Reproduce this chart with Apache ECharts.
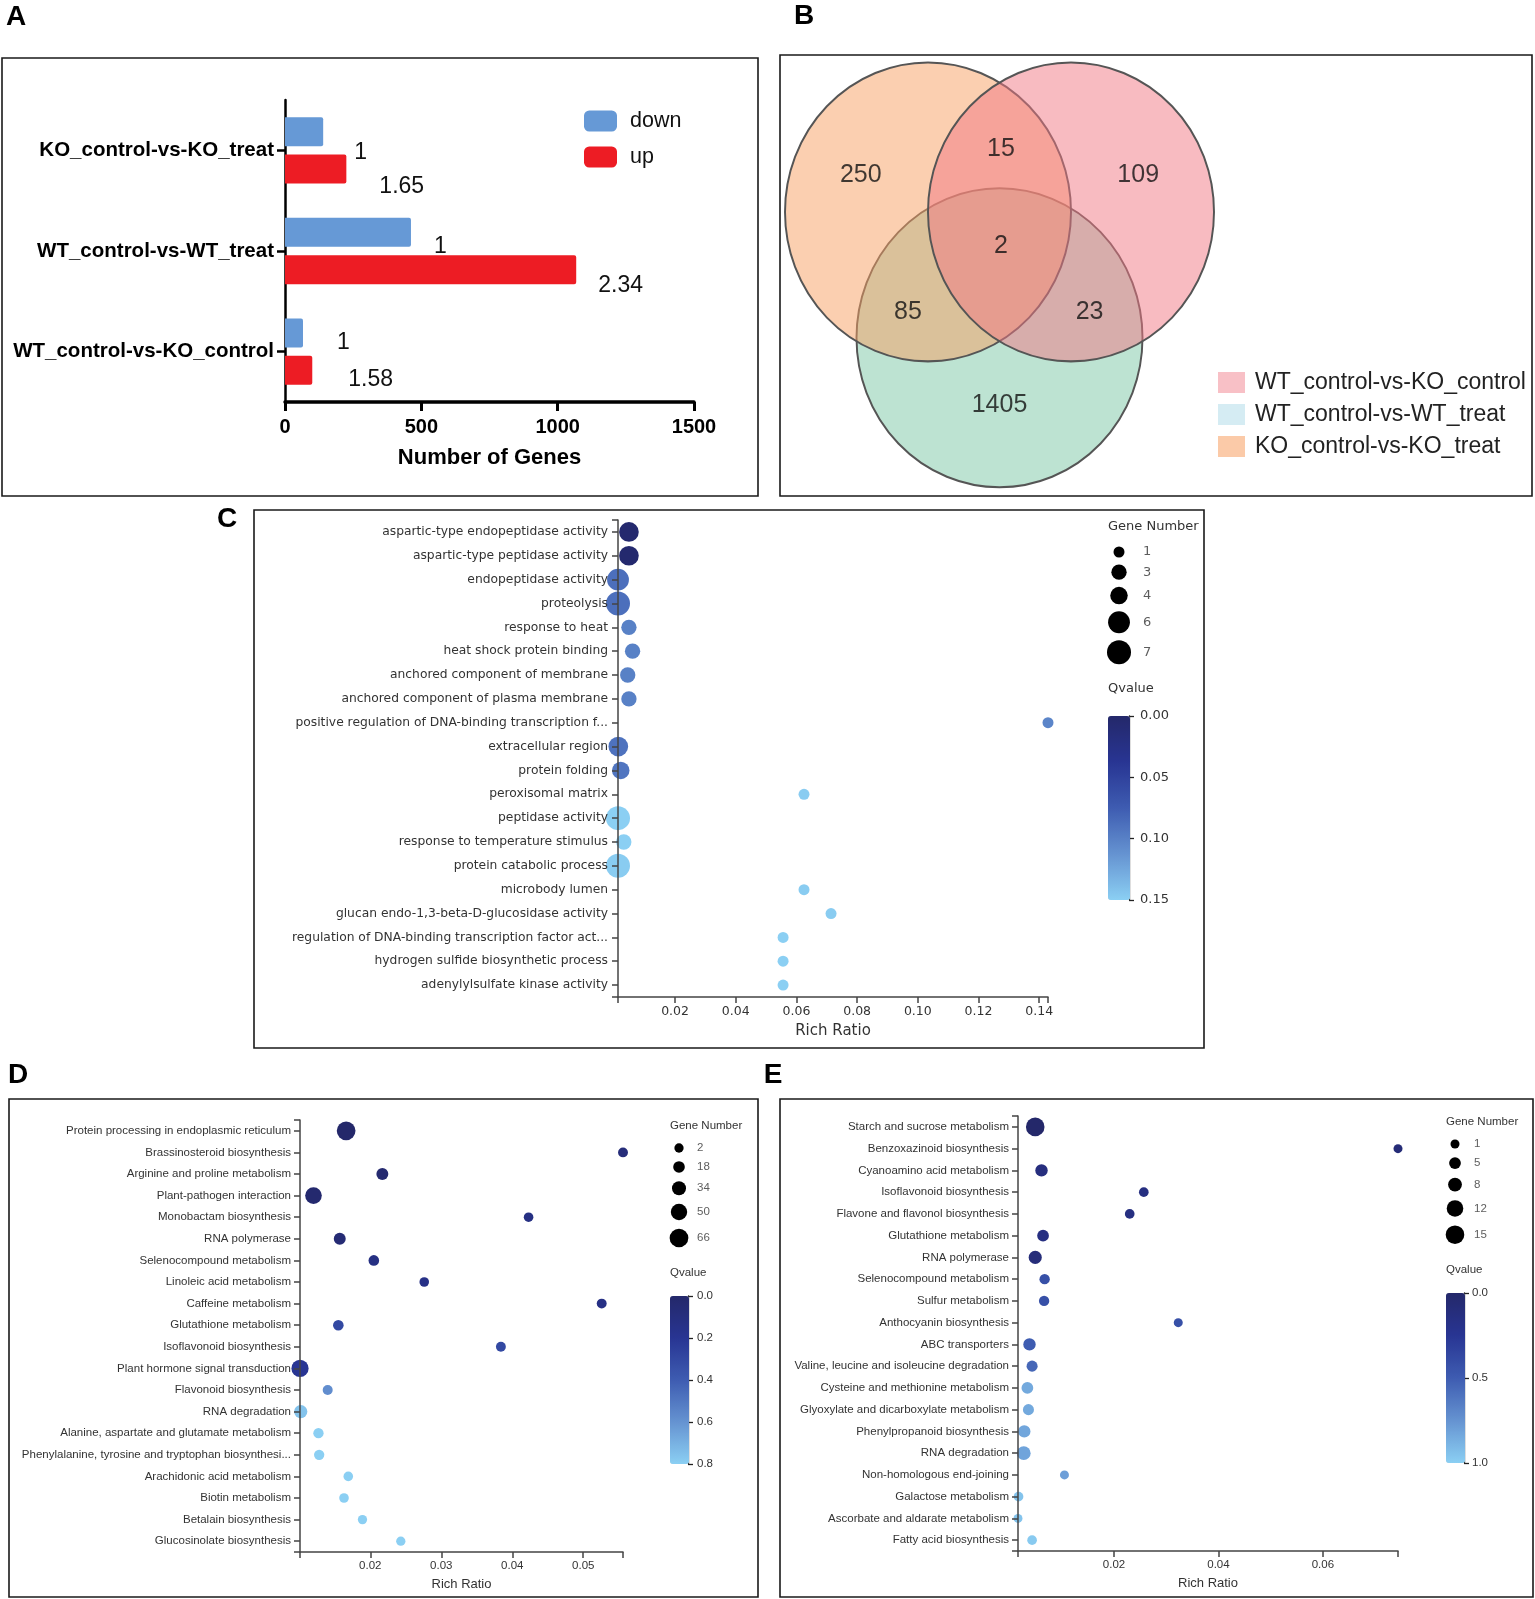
<!DOCTYPE html>
<html><head><meta charset="utf-8">
<script src="https://cdn.jsdelivr.net/npm/echarts@6/dist/echarts.min.js"></script>
<style>html,body{margin:0;padding:0;background:#fff}#c{width:1535px;height:1599px}</style>
</head><body><div id="c"></div>
<script>
// ================= DATA =================
// Panel A
const comparisonsA = ['KO_control-vs-KO_treat', 'WT_control-vs-WT_treat', 'WT_control-vs-KO_control'];
const downGenesA = [140, 462, 66];
const upGenesA = [225, 1068, 100];
const downLabelsA = ['1', '1', '1'];
const upLabelsA = ['1.65', '2.34', '1.58'];
const seriesNamesA = ['down', 'up'];

// Panel B (Venn)
const vennSetNames = ['WT_control-vs-KO_control', 'WT_control-vs-WT_treat', 'KO_control-vs-KO_treat'];
const vennRegions = ['KO only', 'KO+WTKO', 'WTKO only', 'all', 'KO+WT', 'WTKO+WT', 'WT only'];
const vennCounts = [250, 15, 109, 2, 85, 23, 1405];

// Panel C
const termsC = ['aspartic-type endopeptidase activity', 'aspartic-type peptidase activity', 'endopeptidase activity', 'proteolysis', 'response to heat', 'heat shock protein binding', 'anchored component of membrane', 'anchored component of plasma membrane', 'positive regulation of DNA-binding transcription f...', 'extracellular region', 'protein folding', 'peroxisomal matrix', 'peptidase activity', 'response to temperature stimulus', 'protein catabolic process', 'microbody lumen', 'glucan endo-1,3-beta-D-glucosidase activity', 'regulation of DNA-binding transcription factor act...', 'hydrogen sulfide biosynthetic process', 'adenylylsulfate kinase activity'];
const richRatioC = [0.0048, 0.0048, 0.0012, 0.0012, 0.0048, 0.0060, 0.0044, 0.0048, 0.1429, 0.0013, 0.0021, 0.0625, 0.0012, 0.0031, 0.0012, 0.0625, 0.0714, 0.0556, 0.0556, 0.0556];
const qvalueC = [0.004, 0.004, 0.088, 0.088, 0.1, 0.1, 0.1, 0.1, 0.103, 0.09, 0.092, 0.148, 0.15, 0.15, 0.148, 0.148, 0.148, 0.15, 0.15, 0.15];
const geneNumC = [5, 5, 6, 7, 3, 3, 3, 3, 1, 5, 4, 1, 7, 3, 7, 1, 1, 1, 1, 1];
const sizeTicksC = [1, 3, 4, 6, 7];
const qTicksC = [0, 0.05, 0.10, 0.15];
const xTicksC = [0.02, 0.04, 0.06, 0.08, 0.10, 0.12, 0.14];

// Panel D
const termsD = ['Protein processing in endoplasmic reticulum', 'Brassinosteroid biosynthesis', 'Arginine and proline metabolism', 'Plant-pathogen interaction', 'Monobactam biosynthesis', 'RNA polymerase', 'Selenocompound metabolism', 'Linoleic acid metabolism', 'Caffeine metabolism', 'Glutathione metabolism', 'Isoflavonoid biosynthesis', 'Plant hormone signal transduction', 'Flavonoid biosynthesis', 'RNA degradation', 'Alanine, aspartate and glutamate metabolism', 'Phenylalanine, tyrosine and tryptophan biosynthesi...', 'Arachidonic acid metabolism', 'Biotin metabolism', 'Betalain biosynthesis', 'Glucosinolate biosynthesis'];
const richRatioD = [0.0166, 0.0556, 0.0217, 0.0120, 0.0423, 0.0157, 0.0205, 0.0276, 0.0526, 0.0155, 0.0384, 0.0101, 0.0140, 0.0102, 0.0127, 0.0128, 0.0169, 0.0163, 0.0189, 0.0243];
const qvalueD = [0.0, 0.08, 0.03, 0.02, 0.12, 0.05, 0.12, 0.14, 0.13, 0.3, 0.3, 0.2, 0.58, 0.76, 0.8, 0.8, 0.8, 0.8, 0.8, 0.8];
const geneNumD = [66, 6, 20, 52, 4, 20, 11, 4, 6, 11, 6, 56, 7, 29, 9, 9, 4, 4, 2, 2];
const sizeTicksD = [2, 18, 34, 50, 66];
const qTicksD = [0, 0.2, 0.4, 0.6, 0.8];
const xTicksD = [0.02, 0.03, 0.04, 0.05];

// Panel E
const termsE = ['Starch and sucrose metabolism', 'Benzoxazinoid biosynthesis', 'Cyanoamino acid metabolism', 'Isoflavonoid biosynthesis', 'Flavone and flavonol biosynthesis', 'Glutathione metabolism', 'RNA polymerase', 'Selenocompound metabolism', 'Sulfur metabolism', 'Anthocyanin biosynthesis', 'ABC transporters', 'Valine, leucine and isoleucine degradation', 'Cysteine and methionine metabolism', 'Glyoxylate and dicarboxylate metabolism', 'Phenylpropanoid biosynthesis', 'RNA degradation', 'Non-homologous end-joining', 'Galactose metabolism', 'Ascorbate and aldarate metabolism', 'Fatty acid biosynthesis'];
const richRatioE = [0.0049, 0.0744, 0.0061, 0.0257, 0.0230, 0.0064, 0.0049, 0.0067, 0.0066, 0.0323, 0.0038, 0.0043, 0.0034, 0.0036, 0.0028, 0.0027, 0.0105, 0.0017, 0.0016, 0.0043];
const qvalueE = [0.0, 0.08, 0.12, 0.14, 0.14, 0.14, 0.1, 0.42, 0.42, 0.42, 0.5, 0.55, 0.84, 0.84, 0.83, 0.82, 0.8, 0.95, 0.95, 0.98];
const geneNumE = [15, 1, 6, 2, 2, 5, 7, 3, 3, 1, 6, 4, 5, 4, 6, 8, 1, 2, 1, 2];
const sizeTicksE = [1, 5, 8, 12, 15];
const qTicksE = [0, 0.5, 1.0];
const xTicksE = [0.02, 0.04, 0.06];

// ================= STYLE / LAYOUT =================
const F_A = "'Liberation Sans', Arial, sans-serif";
const F_C = "'DejaVu Sans', Verdana, sans-serif";
const F_DE = "'Liberation Sans', Arial, sans-serif";
const QCOLORS = ['#24286a', '#283593', '#3e5cb1', '#6593d1', '#8bcff3'];
const AXIS_GRAY = '#444';
const TXT = '#333';

const LAYOUT = {
  A: { grid: { left: 285, top: 100, width: 409, height: 302 },
       offDown: [[26, 21], [18, 14], [29, 10]], offUp: [[28, 18], [17, 16], [31, 9]] },
  B: { box: { left: 780, top: 55, width: 752, height: 441 }, unitPx: 143, origin: [999.5, 272],
       centers: { 'KO_control-vs-KO_treat': [-0.5, 0.42], 'WT_control-vs-KO_control': [0.5, 0.42], 'WT_control-vs-WT_treat': [0, -0.46] },
       ellipse: [1.0, 1.045],
       labelPos: [[-0.97, 0.68], [0.01, 0.86], [0.97, 0.68], [0.01, 0.18], [-0.64, -0.28], [0.63, -0.28], [0, -0.93]] },
  C: { grid: { left: 618, top: 520, width: 430, height: 477 }, xMin: 0.0012, xMax: 0.1429, sizeRange: [11, 24],
       font: F_C, labelSize: 12.3, tickSize: 12.5, nameSize: 15, nameGap: 27, labelMargin: 10,
       legend: { cx: 1119, y0: 552, pad: 7, labelX: 1143, titleX: 1108, titleY: 527, qTitleY: 689, fs: 13 },
       bar: { left: 1108, top: 716, w: 22, h: 184, labelMargin: 10, fmt: 2 } },
  D: { grid: { left: 300, top: 1120, width: 323, height: 432 }, xMin: 0.0101, xMax: 0.0556, sizeRange: [9.3, 18.7],
       font: F_DE, labelSize: 11.5, tickSize: 11.5, nameSize: 13, nameGap: 26, labelMargin: 9,
       legend: { cx: 679, y0: 1148, pad: 8.5, labelX: 697, titleX: 670, titleY: 1126, qTitleY: 1273, fs: 11.5 },
       bar: { left: 670, top: 1296, w: 19, h: 168, labelMargin: 8, fmt: 1 } },
  E: { grid: { left: 1018, top: 1116, width: 380, height: 435 }, xMin: 0.0016, xMax: 0.0744, sizeRange: [9, 18.6],
       font: F_DE, labelSize: 11.5, tickSize: 11.5, nameSize: 13, nameGap: 26, labelMargin: 9,
       legend: { cx: 1455, y0: 1144, pad: 8.7, labelX: 1474, titleX: 1446, titleY: 1122, qTitleY: 1270, fs: 11.5 },
       bar: { left: 1446, top: 1293, w: 19, h: 170, labelMargin: 7, fmt: 1 } },
  boxes: [[2, 58, 756, 438], [780, 55, 752, 441], [254, 510, 950, 538], [9, 1099, 749, 498], [780, 1099, 753, 498]],
  letters: [['A', 16, 17], ['B', 804, 16], ['C', 227, 519], ['D', 18, 1075], ['E', 773, 1075]]
};

// ================= BUILD =================
const grids = [], xAxes = [], yAxes = [], series = [], visualMaps = [], graphics = [], legends = [];
function addGrid(g, xa, ya) {
  const i = grids.length;
  grids.push(Object.assign({ containLabel: false }, g));
  xAxes.push(Object.assign({ gridIndex: i }, xa));
  yAxes.push(Object.assign({ gridIndex: i }, ya));
  return i;
}
const hiddenVal = (min, max, inverse) => ({ type: 'value', show: false, min, max, inverse: !!inverse, splitLine: { show: false } });

// ---------- Panel A ----------
const LA = LAYOUT.A;
const gA = addGrid(LA.grid,
  { type: 'value', min: 0, max: 1500, interval: 500,
    axisLine: { show: true, lineStyle: { color: '#000', width: 3.5 } },
    axisTick: { show: true, length: 9, lineStyle: { color: '#000', width: 3 } },
    axisLabel: { fontFamily: F_A, fontWeight: 'bold', fontSize: 20, color: '#000', margin: 15, formatter: v => String(v) },
    splitLine: { show: false },
    name: 'Number of Genes', nameLocation: 'middle', nameGap: 45,
    nameTextStyle: { fontFamily: F_A, fontWeight: 'bold', fontSize: 22, color: '#000' } },
  { type: 'category', data: comparisonsA, inverse: true,
    axisLine: { show: true, lineStyle: { color: '#000', width: 2.5 } },
    axisTick: { show: true, alignWithLabel: true, length: 8, lineStyle: { color: '#000', width: 2.5 } },
    axisLabel: { fontFamily: F_A, fontWeight: 'bold', fontSize: 20.5, color: '#000', margin: 11, interval: 0 } });
const barLabelStyle = { show: true, position: 'right', fontFamily: F_A, fontSize: 23, color: '#111' };
series.push({ type: 'bar', name: seriesNamesA[0], xAxisIndex: gA, yAxisIndex: gA, barWidth: 29, barGap: '29%',
  itemStyle: { color: '#6699d6', borderRadius: [0, 2, 2, 0] },
  data: downGenesA.map((v, i) => ({ value: v, label: Object.assign({}, barLabelStyle, { offset: LA.offDown[i], formatter: downLabelsA[i] }) })) });
series.push({ type: 'bar', name: seriesNamesA[1], xAxisIndex: gA, yAxisIndex: gA, barWidth: 29, barGap: '29%',
  itemStyle: { color: '#ed1c24', borderRadius: [0, 2, 2, 0] },
  data: upGenesA.map((v, i) => ({ value: v, label: Object.assign({}, barLabelStyle, { offset: LA.offUp[i], formatter: upLabelsA[i] }) })) });
legends.push({ data: seriesNamesA, left: 584, top: 110, orient: 'vertical', itemWidth: 33, itemHeight: 21, itemGap: 14,
  icon: 'roundRect', padding: 0, textStyle: { fontFamily: F_A, fontSize: 21.5, color: '#111', padding: [0, 0, 0, 8] } });

// ---------- Panel B (Venn) ----------
const LB = LAYOUT.B;
const u = LB.unitPx;
const bx0 = (LB.box.left - LB.origin[0]) / u, bx1 = (LB.box.left + LB.box.width - LB.origin[0]) / u;
const by1 = (LB.origin[1] - LB.box.top) / u, by0 = (LB.origin[1] - LB.box.top - LB.box.height) / u;
const gB = addGrid(LB.box, hiddenVal(bx0, bx1), hiddenVal(by0, by1));
const vennFill = { 'WT_control-vs-WT_treat': 'rgba(123,199,165,0.5)', 'KO_control-vs-KO_treat': 'rgba(247,159,97,0.5)', 'WT_control-vs-KO_control': 'rgba(241,119,131,0.5)' };
const vennLegendColor = { 'WT_control-vs-KO_control': '#f8c0c6', 'WT_control-vs-WT_treat': '#d5ecf3', 'KO_control-vs-KO_treat': '#fbcaa8' };
['WT_control-vs-WT_treat', 'KO_control-vs-KO_treat', 'WT_control-vs-KO_control'].forEach((name, k) => {
  series.push({ type: 'scatter', name, xAxisIndex: gB, yAxisIndex: gB, silent: true, z: 2 + k,
    symbol: 'circle', symbolSize: [2 * u * LB.ellipse[0], 2 * u * LB.ellipse[1]],
    itemStyle: { color: vennFill[name], borderColor: '#555', borderWidth: 2, opacity: 1 },
    data: [LB.centers[name]] });
});
series.push({ type: 'scatter', name: 'vennCounts', xAxisIndex: gB, yAxisIndex: gB, silent: true, z: 10, symbolSize: 0,
  label: { show: true, position: 'inside', fontFamily: F_A, fontSize: 25, color: '#111', formatter: p => p.value[2] },
  data: vennCounts.map((c, i) => [LB.labelPos[i][0], LB.labelPos[i][1], c]) });
legends.push({ data: vennSetNames.map(n => ({ name: n, itemStyle: { color: vennLegendColor[n], borderWidth: 0, opacity: 1 } })),
  left: 1218, top: 371, orient: 'vertical', itemWidth: 27, itemHeight: 21, itemGap: 9, icon: 'rect', padding: 0,
  textStyle: { fontFamily: F_A, fontSize: 23, color: '#222', padding: [0, 0, 0, 5] } });

// ---------- Bubble panels C, D, E ----------
function bubblePanel(L, terms, ratio, qv, genes, sizeTicks, qTicks, xTicks, qMax) {
  const dom = [Math.min(...genes), Math.max(...genes)];
  const sz = n => L.sizeRange[0] + (n - dom[0]) / (dom[1] - dom[0]) * (L.sizeRange[1] - L.sizeRange[0]);
  const lbl = { fontFamily: L.font, color: TXT };
  const g = addGrid(L.grid,
    { type: 'value', min: L.xMin, max: L.xMax, z: 5,
      axisLine: { show: true, lineStyle: { color: AXIS_GRAY, width: 1.5 } },
      axisTick: { show: true, length: 6, customValues: [L.xMin].concat(xTicks, [L.xMax]), lineStyle: { color: AXIS_GRAY, width: 1.5 } },
      axisLabel: Object.assign({ customValues: xTicks, formatter: v => v.toFixed(2), fontSize: L.tickSize, margin: 8 }, lbl),
      splitLine: { show: false },
      name: 'Rich Ratio', nameLocation: 'middle', nameGap: L.nameGap,
      nameTextStyle: Object.assign({ fontSize: L.nameSize }, lbl) },
    { type: 'category', data: terms, inverse: true, z: 5,
      axisLine: { show: true, lineStyle: { color: AXIS_GRAY, width: 1.5 } },
      axisTick: { show: true, alignWithLabel: true, length: 6, lineStyle: { color: AXIS_GRAY, width: 1.5 } },
      axisLabel: Object.assign({ interval: 0, fontSize: L.labelSize, margin: L.labelMargin }, lbl),
      splitLine: { show: false } });
  // outer ticks at the ends of the y axis
  addGrid(L.grid, hiddenVal(0, 1),
    { type: 'value', min: 0, max: 1, z: 5, axisLine: { show: false }, axisLabel: { show: false }, splitLine: { show: false },
      axisTick: { show: true, length: 6, customValues: [0, 1], lineStyle: { color: AXIS_GRAY, width: 1.5 } } });
  const sIdx = series.length;
  series.push({ type: 'scatter', name: 'bubbles', xAxisIndex: g, yAxisIndex: g, z: 2,
    itemStyle: { opacity: 1 },
    symbolSize: v => sz(v[3]),
    data: terms.map((t, i) => [ratio[i], t, qv[i], genes[i]]) });
  visualMaps.push({ type: 'continuous', seriesIndex: sIdx, dimension: 2, min: 0, max: qMax, inverse: true,
    calculable: false, hoverLink: false, left: L.bar.left, top: L.bar.top, itemWidth: L.bar.w, itemHeight: L.bar.h,
    padding: 0, inRange: { color: QCOLORS } });
  // Qvalue axis next to the colour bar
  addGrid({ left: L.bar.left + L.bar.w - 1, top: L.bar.top, width: 1, height: L.bar.h }, hiddenVal(0, 1),
    { type: 'value', min: 0, max: qMax, inverse: true, position: 'right',
      axisLine: { show: true, lineStyle: { color: '#222', width: 1.3 } },
      axisTick: { show: true, length: 5, customValues: qTicks, lineStyle: { color: '#222', width: 1.3 } },
      axisLabel: Object.assign({ customValues: qTicks, formatter: v => v.toFixed(L.bar.fmt), fontSize: L.legend.fs, margin: L.bar.labelMargin }, lbl),
      splitLine: { show: false } });
  // Gene number size legend
  const lg = L.legend;
  const ys = []; let y = lg.y0;
  sizeTicks.forEach((n, i) => { if (i > 0) y += (sz(sizeTicks[i - 1]) + sz(n)) / 2 + lg.pad; ys.push(y); });
  const gl = { left: lg.cx - 20, top: lg.y0 - 20, width: 80, height: 160 };
  const gLeg = addGrid(gl, hiddenVal(0, 80), hiddenVal(0, 160, true));
  series.push({ type: 'scatter', name: 'sizeLegend', xAxisIndex: gLeg, yAxisIndex: gLeg, silent: true,
    itemStyle: { color: '#000', opacity: 1 }, symbolSize: v => sz(v[2]),
    data: sizeTicks.map((n, i) => [lg.cx - gl.left, ys[i] - gl.top, n]) });
  series.push({ type: 'scatter', name: 'sizeLegendText', xAxisIndex: gLeg, yAxisIndex: gLeg, silent: true, symbolSize: 0,
    label: Object.assign({ show: true, position: 'right', distance: 0, fontSize: lg.fs, formatter: p => String(p.value[2]) }, lbl),
    data: sizeTicks.map((n, i) => [lg.labelX - gl.left, ys[i] - gl.top, n]) });
  graphics.push({ type: 'text', x: lg.titleX, y: lg.titleY, silent: true,
    style: { text: 'Gene Number', fontFamily: L.font, fontSize: lg.fs, fill: TXT, align: 'left', verticalAlign: 'middle' } });
  graphics.push({ type: 'text', x: lg.titleX, y: lg.qTitleY, silent: true,
    style: { text: 'Qvalue', fontFamily: L.font, fontSize: lg.fs, fill: TXT, align: 'left', verticalAlign: 'middle' } });
}
bubblePanel(LAYOUT.C, termsC, richRatioC, qvalueC, geneNumC, sizeTicksC, qTicksC, xTicksC, 0.15);
bubblePanel(LAYOUT.D, termsD, richRatioD, qvalueD, geneNumD, sizeTicksD, qTicksD, xTicksD, 0.8);
bubblePanel(LAYOUT.E, termsE, richRatioE, qvalueE, geneNumE, sizeTicksE, qTicksE, xTicksE, 1.0);

// ---------- Panel frames and letters ----------
LAYOUT.boxes.forEach(b => graphics.push({ type: 'rect', silent: true, z: -10,
  shape: { x: b[0], y: b[1], width: b[2], height: b[3] }, style: { fill: 'none', stroke: '#1a1a1a', lineWidth: 1.6 } }));
LAYOUT.letters.forEach(l => graphics.push({ type: 'text', x: l[1], y: l[2], silent: true,
  style: { text: l[0], fontFamily: F_A, fontWeight: 'bold', fontSize: 28, fill: '#000', align: 'center', verticalAlign: 'middle' } }));

const chart = echarts.init(document.getElementById('c'), null, { renderer: 'canvas', width: 1535, height: 1599 });
chart.setOption({
  backgroundColor: '#fff', animation: false, tooltip: { show: false },
  grid: grids, xAxis: xAxes, yAxis: yAxes, series, visualMap: visualMaps, legend: legends,
  graphic: { elements: graphics }
});
</script></body></html>
